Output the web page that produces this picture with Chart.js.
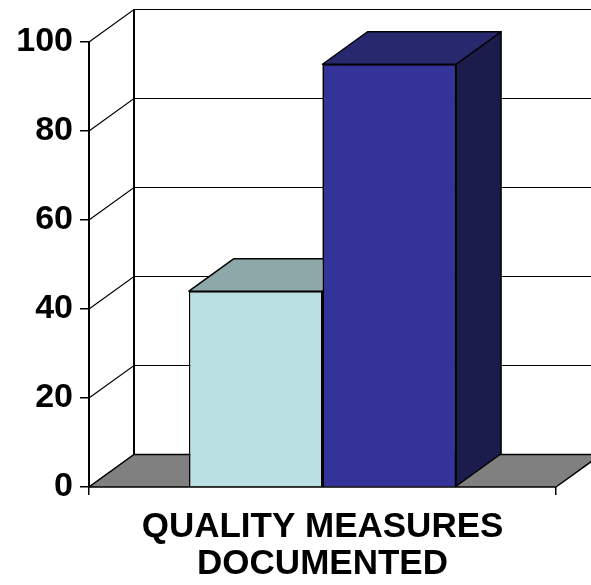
<!DOCTYPE html>
<html>
<head>
<meta charset="utf-8">
<script src="https://cdn.jsdelivr.net/npm/chart.js@4/dist/chart.umd.min.js"></script>
<style>
  html, body { margin: 0; padding: 0; background: #fff; }
  canvas { display: block; }
</style>
</head>
<body>
<canvas id="c" width="591" height="585"></canvas>
<script>
const categories = [['QUALITY MEASURES', 'DOCUMENTED']];
const seriesA = [44];
const seriesB = [95];
const yTicks = [0, 20, 40, 60, 80, 100];

const FONT = "'Liberation Sans', Arial, sans-serif";
const DEPTH_X = 45;
const DEPTH_Y = -32.5;

const faceColors = [
  { front: '#BBE0E3', top: '#8DA8A8', side: '#6E8C8E' },
  { front: '#333399', top: '#28286F', side: '#1C1C4C' }
];

function poly(ctx, pts, fill) {
  ctx.beginPath();
  ctx.moveTo(pts[0][0], pts[0][1]);
  for (let i = 1; i < pts.length; i++) ctx.lineTo(pts[i][0], pts[i][1]);
  ctx.closePath();
  ctx.fillStyle = fill;
  ctx.fill();
  ctx.lineWidth = 1.5;
  ctx.strokeStyle = '#000';
  ctx.lineJoin = 'round';
  ctx.stroke();
}

// Back wall, side wall connectors and floor of the 3D box
const boxPlugin = {
  id: 'box3d',
  beforeDatasetsDraw(chart) {
    const { ctx, chartArea: a, scales: { y } } = chart;
    const W = chart.width;
    ctx.save();
    ctx.strokeStyle = '#000';
    yTicks.forEach(v => {
      const py = y.getPixelForValue(v);
      ctx.lineWidth = 1.2;
      ctx.beginPath();
      ctx.moveTo(a.left, py);
      ctx.lineTo(a.left + DEPTH_X, py + DEPTH_Y);
      ctx.lineTo(W, py + DEPTH_Y);
      ctx.stroke();
    });
    ctx.lineWidth = 2;
    ctx.beginPath();
    ctx.moveTo(a.left + DEPTH_X, y.getPixelForValue(100) + DEPTH_Y);
    ctx.lineTo(a.left + DEPTH_X, y.getPixelForValue(0) + DEPTH_Y);
    ctx.stroke();
    const b = y.getPixelForValue(0);
    poly(ctx, [[a.left, b], [a.right, b], [a.right + DEPTH_X, b + DEPTH_Y], [a.left + DEPTH_X, b + DEPTH_Y]], '#808080');
    ctx.restore();
  },
  afterDatasetsDraw(chart) {
    const ctx = chart.ctx;
    ctx.save();
    chart.data.datasets.forEach((ds, i) => {
      const meta = chart.getDatasetMeta(i);
      const c = faceColors[i];
      meta.data.forEach(el => {
        if (i > 0) el.draw(ctx);
        const L = el.x - el.width / 2, R = el.x + el.width / 2;
        const t = el.y, b = el.base;
        poly(ctx, [[R, t], [R + DEPTH_X, t + DEPTH_Y], [R + DEPTH_X, b + DEPTH_Y], [R, b]], c.side);
        poly(ctx, [[L, t], [R, t], [R + DEPTH_X, t + DEPTH_Y], [L + DEPTH_X, t + DEPTH_Y]], c.top);
      });
    });
    ctx.restore();
  }
};

new Chart(document.getElementById('c'), {
  type: 'bar',
  data: {
    labels: categories,
    datasets: [
      { label: 'Series 1', data: seriesA, backgroundColor: faceColors[0].front, borderColor: '#000', borderWidth: 1.5 },
      { label: 'Series 2', data: seriesB, backgroundColor: faceColors[1].front, borderColor: '#000', borderWidth: 1.5 }
    ]
  },
  options: {
    responsive: false,
    animation: false,
    categoryPercentage: 0.572,
    barPercentage: 1,
    layout: { padding: { top: 42, right: 35, left: 0, bottom: 0 } },
    plugins: { legend: { display: false }, tooltip: { enabled: false } },
    scales: {
      y: {
        min: 0, max: 100,
        afterFit(s) { s.width = 89; },
        border: { display: true, color: '#000', width: 2 },
        grid: { drawOnChartArea: false, drawTicks: true, tickLength: 9, color: '#000', lineWidth: 1.5 },
        ticks: { stepSize: 20, color: '#000', padding: 7, font: { family: FONT, size: 34, weight: 'bold' } }
      },
      x: {
        afterFit(s) { s.height = 98; },
        border: { display: false },
        grid: { offset: true, drawOnChartArea: false, drawTicks: true, tickLength: 8, color: '#000', lineWidth: 1.5 },
        ticks: { color: '#000', padding: 14, font: { family: FONT, size: 35, weight: 'bold', lineHeight: 1.06 } }
      }
    }
  },
  plugins: [boxPlugin]
});
</script>
</body>
</html>
